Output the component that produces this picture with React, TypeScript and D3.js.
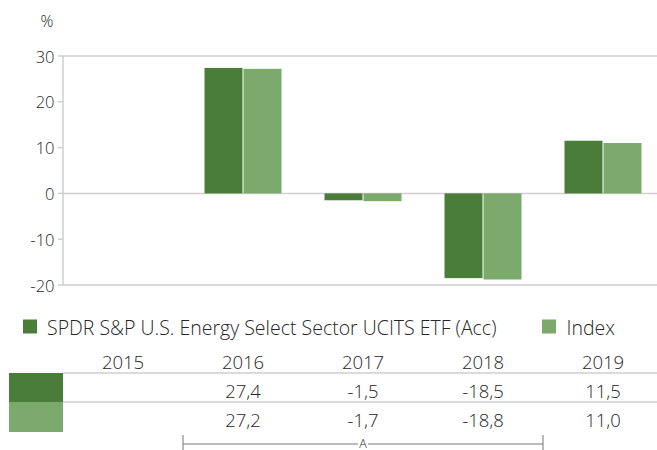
import React from 'react';
import * as d3 from 'd3';

const years = ['2015', '2016', '2017', '2018', '2019'];
const fundValues: (number | null)[] = [null, 27.4, -1.5, -18.5, 11.5];
const indexValues: (number | null)[] = [null, 27.2, -1.7, -18.8, 11.0];
const seriesNames = ['SPDR S&P U.S. Energy Select Sector UCITS ETF (Acc)', 'Index'];
const yTicks = [30, 20, 10, 0, -10, -20];
const bracketYears = ['2016', '2018'];
const bracketLabel = 'A';

const W = 657;
const H = 450;
const DARK = '#4a7c3a';
const LIGHT = '#7baa6c';
const GRID = '#cfcfcf';
const TEXT = '#262626';
const FONT = '"Open Sans", "Noto Sans", sans-serif';

export default function App() {
  const x = d3.scaleBand<string>().domain(years).range([63, 663]).paddingInner(0).paddingOuter(0);
  const y = d3.scaleLinear().domain([-20, 30]).range([285, 56]);
  const barW = 38;
  const gap = 1;
  const fmt = (v: number | null) => (v == null ? '' : d3.format('.1f')(v).replace('.', ',').replace('−', '-'));
  const series = [
    { values: fundValues, color: DARK, offset: -barW - gap / 2 },
    { values: indexValues, color: LIGHT, offset: gap / 2 },
  ];
  const cx = (yr: string) => (x(yr) as number) + x.bandwidth() / 2;
  const row1 = 373, row2 = 402, row3 = 432;
  const bx0 = x(bracketYears[0]) as number;
  const bx1 = (x(bracketYears[1]) as number) + x.bandwidth();
  const by = 444;

  return (
    <svg width={W} height={H} style={{ position: 'absolute', left: 0, top: 0 }} fontFamily={FONT} fontWeight={300}>
      <rect x={0} y={0} width={W} height={H} fill="#fff" />
      {/* % label */}
      <text x={47} y={21} textAnchor="middle" dominantBaseline="central" fontSize={16} fill={TEXT}>%</text>
      {/* gridlines at top, zero, bottom */}
      {[30, 0, -20].map((t) => (
        <line key={t} x1={63} x2={W} y1={y(t)} y2={y(t)} stroke={GRID} strokeWidth={1.5} />
      ))}
      {/* y axis */}
      <line x1={63} x2={63} y1={y(30)} y2={y(-20)} stroke={GRID} strokeWidth={1.5} />
      {yTicks.map((t) => (
        <g key={t}>
          <line x1={58} x2={63} y1={y(t)} y2={y(t)} stroke={GRID} strokeWidth={1.5} />
          <text x={54.5} y={y(t)} textAnchor="end" dominantBaseline="central" fontSize={16.5} fill={TEXT}>{t}</text>
        </g>
      ))}
      {/* bars */}
      {series.map((s, si) =>
        years.map((yr, i) => {
          const v = s.values[i];
          if (v == null) return null;
          const y0 = y(0), y1 = y(v);
          return (
            <rect key={si + yr} x={cx(yr) + s.offset} width={barW} y={Math.min(y0, y1)} height={Math.abs(y1 - y0)} fill={s.color} />
          );
        })
      )}
      {/* legend */}
      <rect x={23} y={319.5} width={14} height={14} fill={DARK} />
      <text x={47} y={327} dominantBaseline="central" fontSize={19.5} fill={TEXT}>{seriesNames[0]}</text>
      <rect x={542} y={319.5} width={14} height={14} fill={LIGHT} />
      <text x={566.5} y={327} dominantBaseline="central" fontSize={19.5} fill={TEXT}>{seriesNames[1]}</text>
      {/* table header */}
      {years.map((yr) => (
        <text key={yr} x={cx(yr)} y={361} textAnchor="middle" dominantBaseline="central" fontSize={18.5} fill={TEXT}>{yr}</text>
      ))}
      <line x1={63} x2={W} y1={row1} y2={row1} stroke={GRID} strokeWidth={1.5} />
      <line x1={63} x2={W} y1={row2} y2={row2} stroke={GRID} strokeWidth={1.5} />
      <rect x={9} y={row1} width={54} height={row2 - row1} fill={DARK} />
      <rect x={9} y={row2} width={54} height={row3 - row2} fill={LIGHT} />
      {years.map((yr, i) => (
        <g key={'v' + yr}>
          <text x={cx(yr)} y={390} textAnchor="middle" dominantBaseline="central" fontSize={18.5} fill={TEXT}>{fmt(fundValues[i])}</text>
          <text x={cx(yr)} y={419.5} textAnchor="middle" dominantBaseline="central" fontSize={18.5} fill={TEXT}>{fmt(indexValues[i])}</text>
        </g>
      ))}
      {/* bracket */}
      <line x1={bx0} x2={bx1} y1={by} y2={by} stroke="#777" strokeWidth={1} />
      <line x1={bx0} x2={bx0} y1={by - 9} y2={by + 8} stroke="#777" strokeWidth={1} />
      <line x1={bx1} x2={bx1} y1={by - 9} y2={by + 8} stroke="#777" strokeWidth={1} />
      <rect x={(bx0 + bx1) / 2 - 5} y={by - 6} width={10} height={12} fill="#fff" />
      <text x={(bx0 + bx1) / 2} y={by - 1} textAnchor="middle" dominantBaseline="central" fontSize={12.5} fill={TEXT}>{bracketLabel}</text>
    </svg>
  );
}
